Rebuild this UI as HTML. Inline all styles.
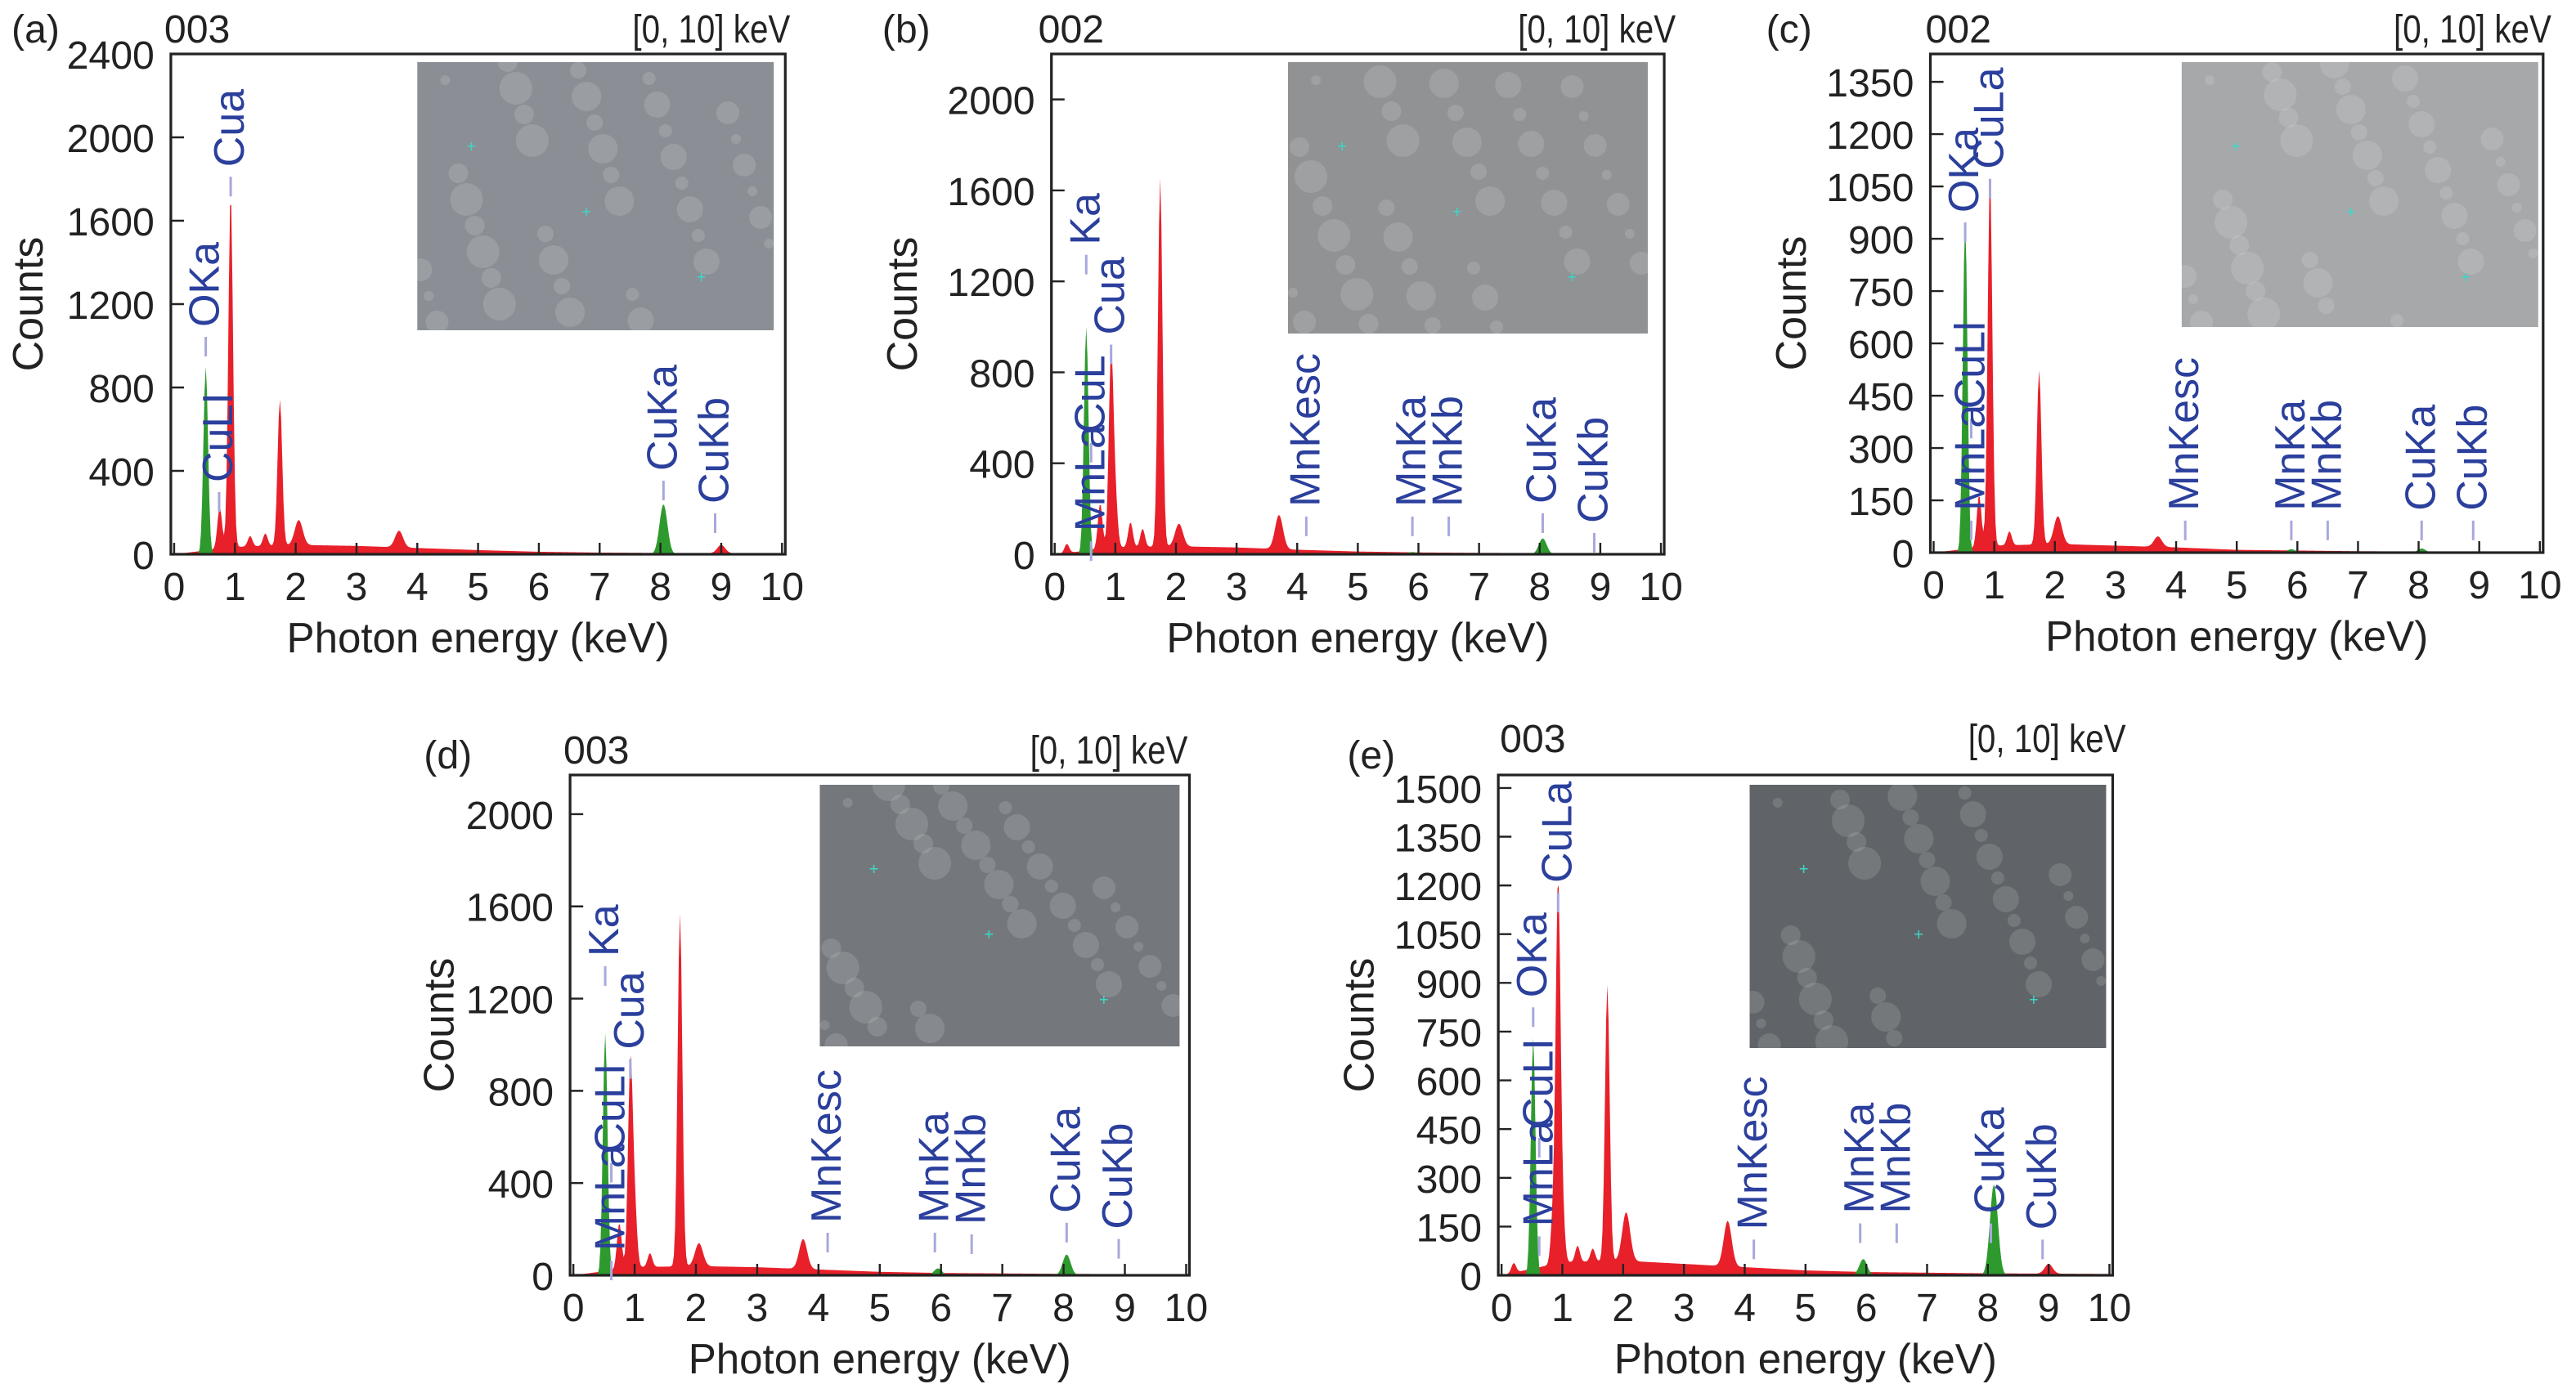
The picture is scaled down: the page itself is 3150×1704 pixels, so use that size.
<!DOCTYPE html>
<html><head><meta charset="utf-8"><style>
html,body{margin:0;padding:0;background:#fff;}
svg{display:block;}
text{font-family:"Liberation Sans",sans-serif;}
</style></head><body>
<svg id="fig" width="3150" height="1704" viewBox="0 0 1568 852" preserveAspectRatio="none" xmlns="http://www.w3.org/2000/svg"></svg>
<script>
// ---- data (per panel) ----
const xTicks = [0,1,2,3,4,5,6,7,8,9,10];
const yTicksA = [0,400,800,1200,1600,2000,2400];
const yTicksB = [0,400,800,1200,1600,2000];
const yTicksC = [0,150,300,450,600,750,900,1050,1200,1350];
const yTicksD = [0,400,800,1200,1600,2000];
const yTicksE = [0,150,300,450,600,750,900,1050,1200,1350,1500];

const redEA = [0.75,0.93,1.25,1.5,1.74,2.05,3.7,9.0];
const redHA = [200,1700,50,60,700,120,80,40];
const greenEA = [0.52,8.05];
const greenHA = [900,240];
const bgA = [0,35,45,40,30,20,12,8,6,5,4];

const redEB = [0.2,0.75,0.93,1.0,1.25,1.45,1.74,2.05,3.7];
const redHB = [40,200,850,200,110,80,1620,100,150];
const greenEB = [0.52,5.9,8.05];
const greenHB = [1000,10,70];
const bgB = [0,30,35,30,20,12,8,6,5,4,3];

const redEC = [0.75,0.93,1.25,1.74,2.05,3.7];
const redHC = [150,1060,40,500,80,30];
const greenEC = [0.52,5.9,8.05];
const greenHC = [950,10,12];
const bgC = [0,20,25,20,15,8,6,4,3,3,2];

const redED = [0.75,0.93,1.0,1.25,1.74,2.05,3.75];
const redHD = [200,880,250,60,1530,100,130];
const greenED = [0.52,5.95,8.05];
const greenHD = [1050,30,90];
const bgD = [0,35,40,35,25,15,10,8,6,5,4];

const redEE = [0.2,0.85,0.93,1.0,1.25,1.5,1.74,2.05,3.72,9.0];
const redHE = [30,150,1150,150,50,40,850,150,140,30];
const greenEE = [0.52,5.95,8.1];
const greenHE = [730,50,280];
const bgE = [0,40,45,35,25,15,10,8,6,5,4];

const labNamesA = ["Cua","OKa","CuLI","CuKa","CuKb"];
const labEA = [0.93,0.52,0.74,8.05,8.9];
const labYA = [1858,1090,345,400,243];

const labNamesB = ["Ka","Cua","CuL","MnLa","MnKesc","MnKa","MnKb","CuKa","CuKb"];
const labEB = [0.52,0.93,0.6,0.6,4.15,5.9,6.5,8.05,8.9];
const labYB = [1360,965,533,100,209,209,209,223,137];

const labNamesC = ["OKa","CuLa","CuLl","MnLa","MnKesc","MnKa","MnKb","CuKa","CuKb"];
const labEC = [0.52,0.93,0.62,0.62,4.15,5.9,6.5,8.05,8.9];
const labYC = [975,1100,412,120,120,120,120,120,120];

const labNamesD = ["Ka","Cua","CuLI","MnLa","MnKesc","MnKa","MnKb","CuKa","CuKb"];
const labED = [0.52,0.93,0.62,0.62,4.15,5.9,6.5,8.05,8.9];
const labYD = [1383,980,530,106,227,227,220,270,200];

const labNamesE = ["CuLa","OKa","CuLI","MnLa","MnKesc","MnKa","MnKb","CuKa","CuKb"];
const labEE = [0.93,0.52,0.62,0.62,4.15,5.9,6.5,8.05,8.9];
const labYE = [1208,855,453,150,140,190,190,190,140];

const panels = [
 {id:"a",x0:106,x1:476,y0:339,yt:33,ymax:2400,yTicks:yTicksA,rE:redEA,rH:redHA,gE:greenEA,gH:greenHA,bg:bgA,ln:labNamesA,le:labEA,ly:labYA,
  tag:"(a)",tagX:7,tagY:26,num:"003",numX:100,numY:26,rng:481,rngY:26,cntX:26,inset:[254,38,217,164,"#8b8f95"]},
 {id:"b",x0:642,x1:1011,y0:339,yt:33,ymax:2200,yTicks:yTicksB,rE:redEB,rH:redHB,gE:greenEB,gH:greenHB,bg:bgB,ln:labNamesB,le:labEB,ly:labYB,
  tag:"(b)",tagX:537,tagY:26,num:"002",numX:632,numY:26,rng:1020,rngY:26,cntX:558,inset:[784,38,219,166,"#909294"]},
 {id:"c",x0:1177,x1:1546,y0:338,yt:33,ymax:1430,yTicks:yTicksC,rE:redEC,rH:redHC,gE:greenEC,gH:greenHC,bg:bgC,ln:labNamesC,le:labEC,ly:labYC,
  tag:"(c)",tagX:1075,tagY:26,num:"002",numX:1172,numY:26,rng:1553,rngY:26,cntX:1099,inset:[1328,38,217,162,"#a6a8aa"]},
 {id:"d",x0:349,x1:722,y0:780,yt:474,ymax:2170,yTicks:yTicksD,rE:redED,rH:redHD,gE:greenED,gH:greenHD,bg:bgD,ln:labNamesD,le:labED,ly:labYD,
  tag:"(d)",tagX:258,tagY:470,num:"003",numX:343,numY:467,rng:723,rngY:467,cntX:276,inset:[499,480,219,160,"#74787c"]},
 {id:"e",x0:914,x1:1284,y0:780,yt:474,ymax:1540,yTicks:yTicksE,rE:redEE,rH:redHE,gE:greenEE,gH:greenHE,bg:bgE,ln:labNamesE,le:labEE,ly:labYE,
  tag:"(e)",tagX:820,tagY:470,num:"003",numX:913,numY:460,rng:1294,rngY:460,cntX:836,inset:[1065,480,217,161,"#606468"]}
];

const NS="http://www.w3.org/2000/svg";
const svg=document.getElementById("fig");
function mk(tag,attrs,parent,txt){const e=document.createElementNS(NS,tag);for(const k in attrs)e.setAttribute(k,attrs[k]);if(txt!==undefined)e.textContent=txt;(parent||svg).appendChild(e);return e;}

function spectrum(E,H,bg,e){
  let y=0;
  if(bg){const i=Math.min(9,Math.floor(e));const f=e-i;y=bg[i]*(1-f)+bg[i+1]*f;}
  for(let k=0;k<E.length;k++){const s=E[k]<2?0.038:0.065;const d=(e-E[k])/s;y+=H[k]*Math.exp(-0.5*d*d);}
  return y;
}

panels.forEach(p=>{
  const g=mk("g",{});
  
  
  const X=v=>p.x0+(v/10)*(p.x1-p.x0);
  const Y=v=>p.y0-(v/p.ymax)*(p.y0-p.yt);

  const [ix,iy,iw,ih,col]=p.inset;
  const ins=mk("g",{},g);
  
  
  mk("rect",{x:ix,y:iy,width:iw,height:ih,fill:col},ins);
  for(let k=0;k<40;k++){
    const cx=ix+((k*53+17)%iw), cy=iy+((k*37+11)%ih), r=3+((k*7)%8);
    mk("circle",{cx:cx,cy:cy,r:r,fill:"#ffffff","fill-opacity":0.13},ins);
  }
  for(let k=0;k<3;k++){
    mk("text",{x:ix+30+k*70,y:iy+55+k*40,fill:"#3dd6c8","font-size":10},ins,"+");
  }

  const step=0.02;
  ["red","green"].forEach(c=>{
    const E=c==="red"?p.rE:p.gE, H=c==="red"?p.rH:p.gH;
    let d="M"+X(0.1)+","+p.y0;
    for(let e=0.1;e<=10;e+=step){
      const v=c==="red"?spectrum(E,H,p.bg,e):spectrum(E,H,null,e);
      if(c==="green"&&v<1){d+=" L"+X(e).toFixed(2)+","+p.y0;continue;}
      d+=" L"+X(e).toFixed(2)+","+Y(Math.min(v,p.ymax)).toFixed(2);
    }
    d+=" L"+X(10)+","+p.y0+" Z";
    const path=mk("path",{d:d,fill:c==="red"?"#e8202a":"#2e9a2e",stroke:"none"},g);
    
    
  });

  const fr=mk("rect",{x:p.x0-2,y:p.yt,width:p.x1-p.x0+4,height:p.y0-p.yt,fill:"none",stroke:"#222","stroke-width":1.6},g);
  
  

  xTicks.forEach(t=>{
    mk("line",{x1:X(t),x2:X(t),y1:p.y0,y2:p.y0-7,stroke:"#222","stroke-width":1.2},g);
    const tl=mk("text",{x:X(t),y:p.y0+28,"text-anchor":"middle","font-size":24,fill:"#222"},g,String(t));
    
    
  });
  p.yTicks.forEach(t=>{
    mk("line",{x1:p.x0-2,x2:p.x0+6,y1:Y(t),y2:Y(t),stroke:"#222","stroke-width":1.2},g);
    const tl=mk("text",{x:p.x0-12,y:Y(t)+9,"text-anchor":"end","font-size":24,fill:"#222"},g,String(t));
    
    
  });

  p.ln.forEach((n,i)=>{
    const lx=X(p.le[i]), ly=Y(p.ly[i]);
    const tk=mk("line",{x1:lx,x2:lx,y1:ly+6,y2:ly+18,stroke:"#a8a8dc","stroke-width":1.5},g);
    
    
    const t=mk("text",{x:0,y:0,transform:"translate("+(lx+8)+","+ly+") rotate(-90)","font-size":26,fill:"#2b3f9c"},g,n);
    
    
  });

  const tg=mk("text",{x:p.tagX,y:p.tagY,"font-size":24,fill:"#222"},g,p.tag);
  
  
  const nm=mk("text",{x:p.numX,y:p.numY,"font-size":24,fill:"#222"},g,p.num);
  
  
  const rg=mk("text",{x:p.rng,y:p.rngY,"text-anchor":"end","font-size":24,fill:"#222",textLength:96,lengthAdjust:"spacingAndGlyphs"},g,"[0, 10] keV");
  
  
  const cy=(p.y0+p.yt)/2;
  const yt=mk("text",{x:0,y:0,transform:"translate("+p.cntX+","+cy+") rotate(-90)","text-anchor":"middle","font-size":26,fill:"#222"},g,"Counts");
  
  
  const xt=mk("text",{x:(p.x0+p.x1)/2,y:p.y0+60,"text-anchor":"middle","font-size":26,fill:"#222",textLength:233,lengthAdjust:"spacingAndGlyphs"},g,"Photon energy (keV)");
  
  
});
</script>
</body></html>
